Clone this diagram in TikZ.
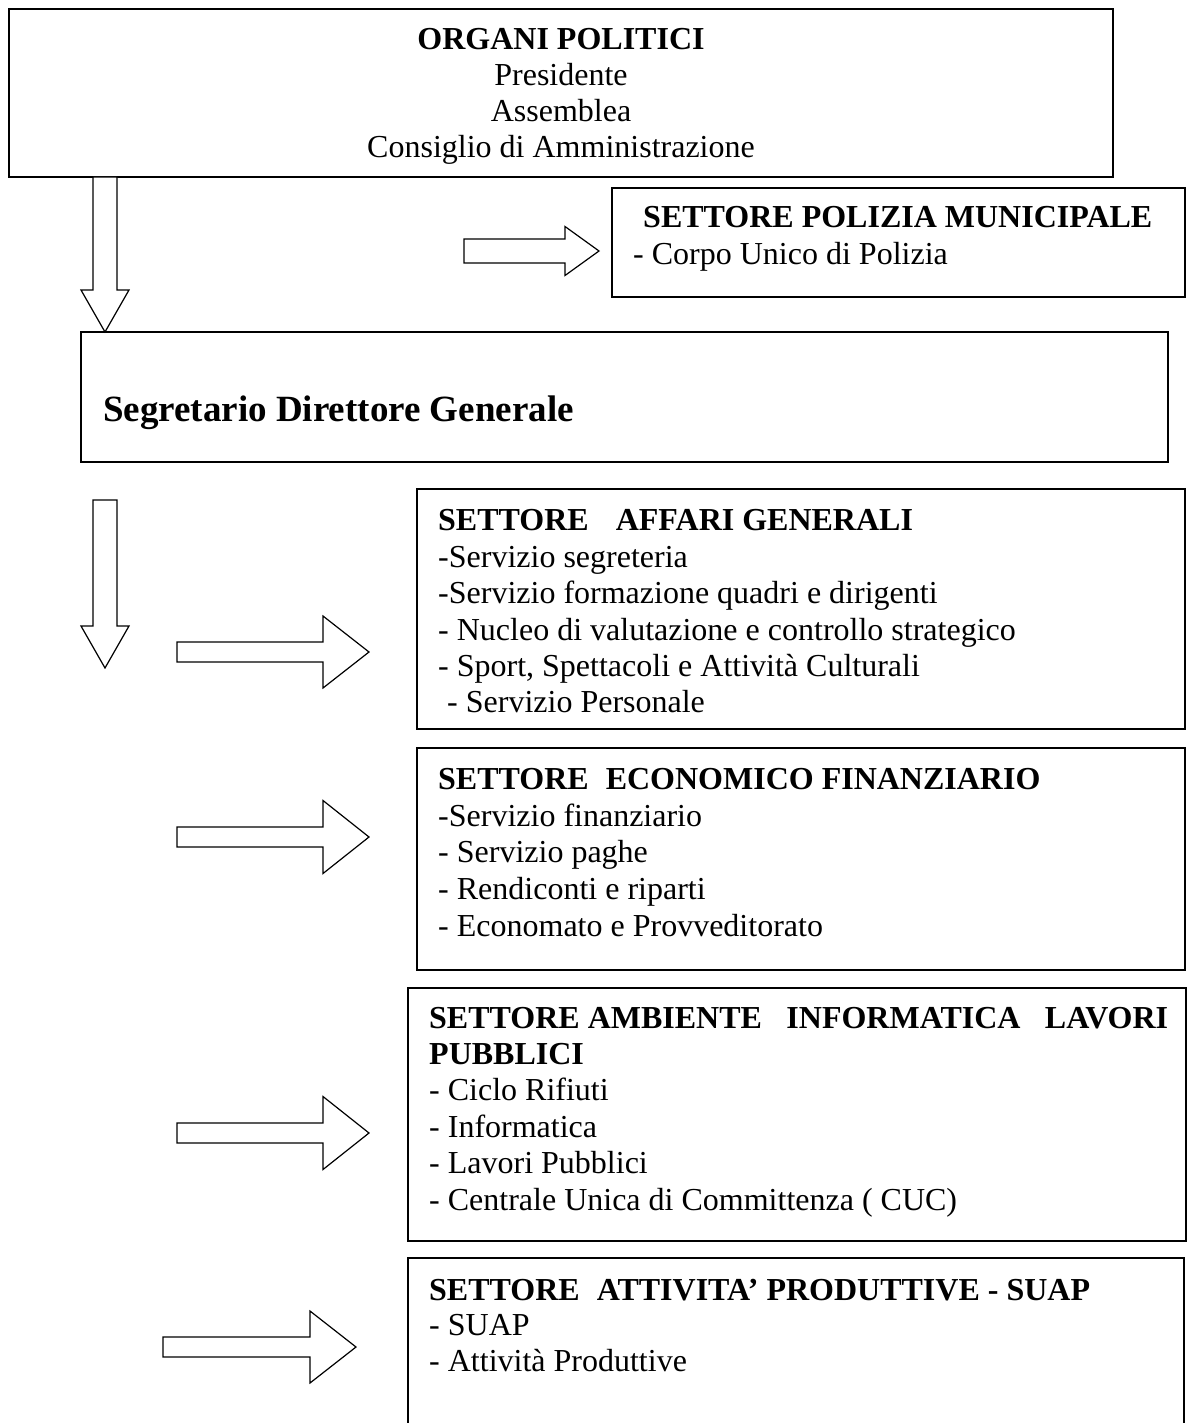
\documentclass[tikz,border=0pt]{standalone}
\usepackage{fontspec}
\setmainfont{Liberation Serif}
\newcommand\fsz{\fontsize{32}{36.5}\selectfont}
\newcommand\mkbox[5]{\node[box, minimum width={#4-#2}, minimum height={#5-#3}] (#1) at ({(#2+#4)/2},{(#3+#5)/2}) {};}
% name, x1 (shaft start), x2 (head base), x3 (tip), yc, half shaft, half head
\newcommand\rightblk[7]{%
  \draw[blk] (#2,#5-#6) -- (#3,#5-#6) -- (#3,#5-#7) -- (#4,#5) -- (#3,#5+#7) -- (#3,#5+#6) -- (#2,#5+#6) -- cycle;
  \coordinate (#1) at (#4,#5);}
% name, y1 (shaft start), y2 (head base), y3 (tip), xc, half shaft, half head
\newcommand\downblk[7]{%
  \draw[blk] (#5-#6,#2) -- (#5-#6,#3) -- (#5-#7,#3) -- (#5,#4) -- (#5+#7,#3) -- (#5+#6,#3) -- (#5+#6,#2) -- cycle;
  \coordinate (#1) at (#5,#4);}
\begin{document}
\begin{tikzpicture}[x=1pt,y=-1pt,
  box/.style={draw, line width=1.7pt, inner sep=0pt, rectangle},
  blk/.style={draw, line width=1.2pt, line join=miter, fill=white},
  txt/.style={anchor=base west, inner sep=0pt, font=\fsz},
  ctxt/.style={anchor=base, inner sep=0pt, font=\fsz},
  hd/.style={txt, font=\fsz\bfseries}]
\useasboundingbox (0,0) rectangle (1190,1423);
\clip (0,0) rectangle (1190,1423);
\fill[white] (0,0) rectangle (1190,1423);

% boxes
\mkbox{org}{9}{9}{1113}{177}
\mkbox{pol}{612}{188}{1185}{297}
\mkbox{seg}{81}{332}{1168}{462}
\mkbox{aff}{417}{489}{1185}{729}
\mkbox{eco}{417}{748}{1185}{970}
\mkbox{amb}{408}{988}{1186}{1241}
\mkbox{att}{408}{1258}{1184}{1450}

% block arrows
\downblk{d1}{177}{290}{332}{105}{12}{24}
\rightblk{r0}{464}{565}{599}{251}{12}{24.5}
\downblk{d2}{500}{626}{668}{105}{12}{24}
\rightblk{r1}{177}{323}{369}{652}{10}{36}
\rightblk{r2}{177}{323}{369}{837}{10}{36.5}
\rightblk{r3}{177}{323}{369}{1133}{10}{36.5}
\rightblk{r4}{163}{310}{356}{1347}{10}{36}

% ORGANI POLITICI
\node[ctxt, font=\fsz\bfseries] (o1) at (561,50) {ORGANI POLITICI};
\node[ctxt] (o2) at (561,86) {Presidente};
\node[ctxt] (o3) at (561,122) {Assemblea};
\node[ctxt] (o4) at (561,158) {Consiglio di Amministrazione};

% Polizia
\node[hd] (p1) at (643,228) {SETTORE POLIZIA MUNICIPALE};
\node[txt] (p2) at (633,265) {- Corpo Unico di Polizia};

% Segretario
\node[txt, font=\fontsize{37}{40}\selectfont\bfseries] (s1) at (103,421) {Segretario Direttore Generale};

% Affari generali
\node[hd] (a0) at (438,530) {SETTORE\hspace{27pt}AFFARI GENERALI};
\node[txt] (a1) at (438,567) {-Servizio segreteria};
\node[txt] (a2) at (438,603) {-Servizio formazione quadri e dirigenti};
\node[txt] (a3) at (438,640) {- Nucleo di valutazione e controllo strategico};
\node[txt] (a4) at (438,676) {- Sport, Spettacoli e Attività Culturali};
\node[txt] (a5) at (447,712) {- Servizio Personale};

% Economico finanziario
\node[hd] (e0) at (438,789) {SETTORE\hspace{17pt}ECONOMICO FINANZIARIO};
\node[txt] (e1) at (438,826) {-Servizio finanziario};
\node[txt] (e2) at (438,862) {- Servizio paghe};
\node[txt] (e3) at (438,899) {- Rendiconti e riparti};
\node[txt] (e4) at (438,936) {- Economato e Provveditorato};

% Ambiente
\node[hd] (m0) at (429,1028) {\hbox to 739pt{SETTORE AMBIENTE\hfill INFORMATICA\hfill LAVORI}};
\node[hd] (m1) at (429,1064) {PUBBLICI};
\node[txt] (m2) at (429,1100) {- Ciclo Rifiuti};
\node[txt] (m3) at (429,1137) {- Informatica};
\node[txt] (m4) at (429,1173) {- Lavori Pubblici};
\node[txt] (m5) at (429,1210) {- Centrale Unica di Committenza ( CUC)};

% Attivita produttive
\node[hd] (t0) at (429,1300) {SETTORE\hspace{17pt}ATTIVITA’ PRODUTTIVE - SUAP};
\node[txt] (t1) at (429,1335) {- SUAP};
\node[txt] (t2) at (429,1371) {- Attività Produttive};
\end{tikzpicture}
\end{document}
